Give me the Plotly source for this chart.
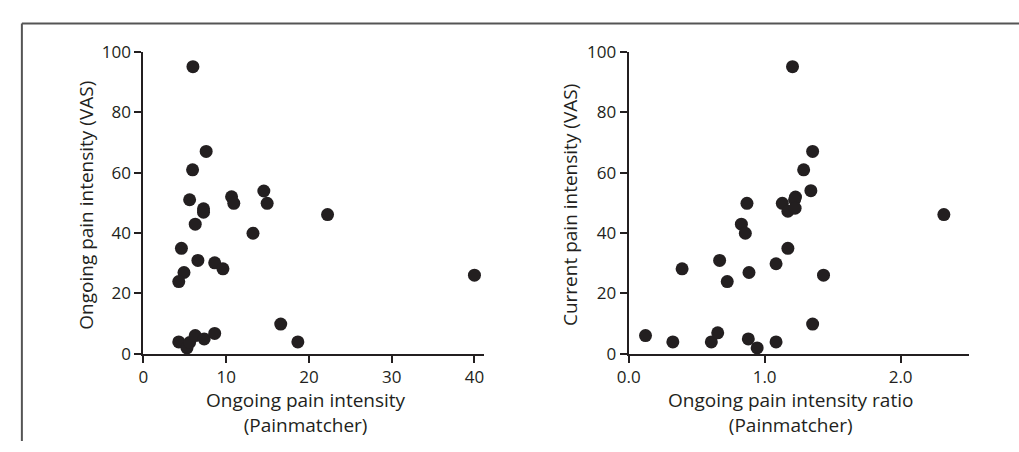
import plotly.graph_objects as go

# Left panel: ongoing pain intensity (Painmatcher) vs ongoing pain intensity (VAS)
left_x = [5.98, 7.58, 5.94, 5.58, 10.65, 10.92, 14.55, 14.95, 7.26, 7.26, 6.26, 22.25, 13.24,
          4.59, 6.58, 8.61, 9.61, 4.90, 4.27, 40.0, 16.59, 18.66, 4.27, 5.26, 5.58, 6.26, 7.34, 8.61]
left_y = [95.1, 67.0, 60.9, 51.0, 52.0, 49.8, 53.9, 49.8, 48.0, 46.9, 42.9, 46.1, 39.9,
          34.9, 30.9, 30.1, 28.1, 26.9, 23.9, 26.0, 9.8, 3.9, 3.9, 1.9, 3.7, 6.0, 4.9, 6.7]

# Right panel: ongoing pain intensity ratio (Painmatcher) vs current pain intensity (VAS)
right_x = [1.205, 1.353, 1.287, 1.340, 1.227, 1.220, 1.130, 1.171, 1.224, 0.870, 0.829, 0.858,
           2.318, 1.171, 0.669, 1.084, 0.885, 0.393, 0.725, 1.433, 1.353, 0.124, 0.325, 0.608,
           0.655, 0.880, 0.945, 1.084]
right_y = [95.1, 67.0, 60.9, 54.0, 51.9, 51.0, 49.8, 47.2, 48.2, 49.8, 42.9, 39.9,
           46.1, 34.9, 30.9, 29.8, 26.9, 28.1, 23.9, 26.0, 9.8, 6.0, 3.9, 3.9,
           6.9, 4.9, 1.9, 3.9]

left_xticks = [0, 10, 20, 30, 40]
left_xticktext = ["0", "10", "20", "30", "40"]
right_xticks = [0, 1, 2]
right_xticktext = ["0.0", "1.0", "2.0"]
yticks = [0, 20, 40, 60, 80, 100]

FONT = "Open Sans"
TXT = "#231f20"

fig = go.Figure()
marker = dict(size=13, color="#231f20", line=dict(width=0))
fig.add_trace(go.Scatter(x=left_x, y=left_y, mode="markers", marker=marker,
                         xaxis="x", yaxis="y", cliponaxis=False, showlegend=False))
fig.add_trace(go.Scatter(x=right_x, y=right_y, mode="markers", marker=marker,
                         xaxis="x2", yaxis="y2", cliponaxis=False, showlegend=False))

W, H = 1019, 452
def px(x):
    return x / W
def py(y):
    return 1 - y / H

axis_common = dict(showgrid=False, zeroline=False, showline=True, linecolor=TXT, linewidth=2,
                   ticks="outside", ticklen=7, tickwidth=2, tickcolor=TXT,
                   tickfont=dict(family=FONT, size=17, color=TXT))

fig.update_layout(
    width=W, height=H, margin=dict(l=0, r=0, t=0, b=0),
    paper_bgcolor="white", plot_bgcolor="white",
    xaxis=dict(domain=[px(133), px(478)], range=[0, 41.2], tickvals=left_xticks,
               ticktext=left_xticktext, anchor="y", **axis_common),
    yaxis=dict(domain=[py(360), py(42)], range=[0, 100], tickvals=yticks, anchor="x",
               **axis_common),
    xaxis2=dict(domain=[px(624), px(968)], range=[0, 2.5], tickvals=right_xticks,
                ticktext=right_xticktext, anchor="y2", **axis_common),
    yaxis2=dict(domain=[py(360), py(42)], range=[0, 100], tickvals=yticks, anchor="x2",
                **axis_common),
    shapes=[
        dict(type="line", xref="paper", yref="paper", x0=px(10), x1=1, y0=py(12), y1=py(12),
             line=dict(color="#555555", width=2)),
        dict(type="line", xref="paper", yref="paper", x0=px(10), x1=px(10), y0=py(12), y1=0,
             line=dict(color="#555555", width=2)),
    ],
)

tf = dict(family=FONT, size=19, color=TXT)
def ann(text, x, y, angle=0):
    return dict(text=text, x=px(x), y=py(y), xref="paper", yref="paper", showarrow=False,
                font=tf, textangle=angle, xanchor="center", yanchor="middle", align="center")

annotations = [
    ann("Ongoing pain intensity<br>(Painmatcher)", 297, 422),
    ann("Ongoing pain intensity ratio<br>(Painmatcher)", 788, 422),
    ann("Ongoing pain intensity (VAS)", 74, 204, -90),
    ann("Current pain intensity (VAS)", 564, 203, -90),
]
fig.update_layout(annotations=annotations)

fig.write_html("out.html")
